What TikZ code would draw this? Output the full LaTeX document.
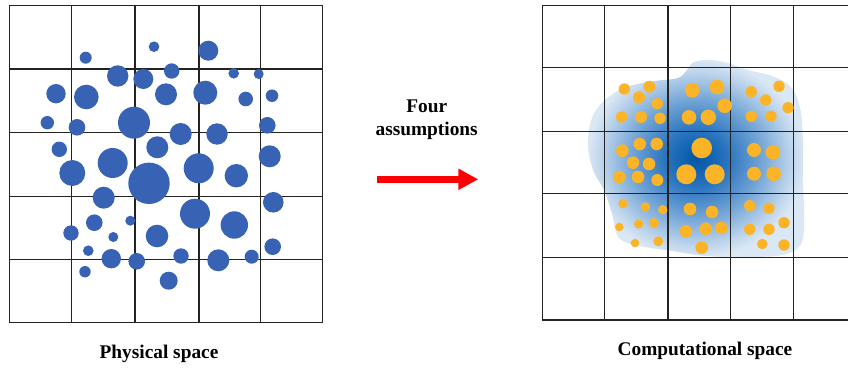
\documentclass[tikz,border=0pt]{standalone}
\usepackage{fontspec}
\setmainfont{Liberation Serif}
\usepackage{tikz}
\usetikzlibrary{arrows.meta}

\definecolor{dotblue}{RGB}{56,98,180}
\definecolor{dotorange}{RGB}{251,180,40}
\definecolor{gridline}{RGB}{35,35,35}
\definecolor{blobdark}{RGB}{0,86,166}
\definecolor{blobmid}{RGB}{40,115,190}
\definecolor{blobpale}{RGB}{115,165,214}
\definecolor{bloblight}{RGB}{190,213,236}
\definecolor{blobedge}{RGB}{218,231,244}
\pgfdeclareradialshading{blobshade}{\pgfpoint{0bp}{0bp}}{color(0bp)=(blobdark); color(7bp)=(blobmid); color(15bp)=(blobpale); color(22bp)=(bloblight); color(25bp)=(blobedge); color(50bp)=(blobedge)}

\begin{document}
\begin{tikzpicture}[x=0.03cm,y=-0.03cm]
    \tikzstyle{gridrule}=[draw=gridline,line width=1.1pt]
    \tikzstyle{particle}=[fill=dotblue]
    \tikzstyle{sample}=[fill=dotorange]
    \tikzstyle{caption}=[font=\fontsize{16.5}{19.6}\selectfont\bfseries,align=center,inner sep=0pt]
    \useasboundingbox (0,0) rectangle (848,367);
    % density cloud in computational space
    \path[shading=blobshade] plot[smooth cycle,tension=0.6] coordinates {
      (687,70) (694,62) (710,60) (728,63) (748,70) (772,76) (791,87) (800,108)
      (803,140) (803,180) (804,215) (801,244) (782,255) (745,257) (705,256)
      (672,251) (640,246) (619,238) (612,214) (604,190) (593,170) (588,145)
      (592,118) (605,100) (626,87) (655,81) (678,78)};
    % grids
    \foreach \gx in {9.3,71.7,135,199,260.7,322.7}
      \draw[gridrule] (\gx,5.7) -- (\gx,322.7);
    \foreach \gy in {5.7,69,132.3,196.7,259.3,322.7}
      \draw[gridrule] (9.3,\gy) -- (322.7,\gy);
    \foreach \gx in {542.3,604.3,668,730.3,793.7}
      \draw[gridrule] (\gx,5.7) -- (\gx,320);
    \foreach \gy in {5.7,67.7,131.7,193.3,257.3,320}
      \draw[gridrule] (542.3,\gy) -- (848,\gy);
    % physical particles
    \foreach \px/\py/\pr in {85.7/57.7/6, 154/46.7/5.3, 208.3/50.7/10, 117.7/76/10.7,
      143.3/79/10, 171.7/71/7.7, 233.7/73.3/5.3, 258.7/74/5, 56/93.7/9.7,
      86.3/97/12.3, 166/94.3/11, 205.3/92.7/12, 245.7/99/7.3, 272/95.7/6.3,
      47.3/122.7/6.7, 77/127.3/8.3, 134/122.7/16, 180.7/134/11, 217/134/10.7,
      267.3/125.3/8.3, 59.3/149.3/7.7, 157.3/147.3/11, 112.7/163/15, 269.7/156.3/11,
      72.3/173/13, 149/183.3/20.7, 198.7/168.3/15, 236.3/175.7/11.7, 103.7/197.7/11,
      273.3/202.3/10.3, 195/213.7/15, 234.3/225/13.7, 94.3/222.7/8.3, 130.3/220.7/5,
      71/233/7.7, 113.3/237/5, 157/236/11.3, 272.7/246.7/8.3, 88.3/250.7/5.3,
      111.3/258.7/9.7, 136.7/261.3/8.3, 181/256/7.7, 218.3/260.3/11, 251.7/256.7/7,
      85/271.7/5.7, 168.7/280.7/9}
      \fill[particle] (\px,\py) circle (\pr);
    % computational samples
    \foreach \px/\py/\pr in {624.3/89/5.7, 649.3/86.7/6, 639/97.3/6, 657.3/103.7/5.7,
      621.7/117/5.7, 641/117/6, 660/118.3/5.7, 692.3/90.3/7.3, 717/87/7.3,
      724.7/105.7/7.3, 689/117.3/7.3, 708.3/117.3/7.7, 751.3/91.7/5.7, 779/86.3/5.7,
      765.7/100/5.7, 788/107.7/5.7, 751.3/116.3/5.7, 771/116.3/5.7,
      622.3/150.7/6.3, 639.7/144/6.3, 656.7/144/6.3, 633/162.7/6.3, 649/164/6.3,
      619.3/177/6.3, 638/177/6.3, 657.3/180/6, 701.7/148/10.3, 686.3/174.3/10,
      714.7/174.3/10, 754/150/7, 773/152.3/7.3, 754/173.7/7, 773.7/173.7/7.3,
      623/203.7/4.7, 645.3/207/4.7, 662.7/209.7/4.7, 619.3/227/4.3, 638.7/224/4.7,
      654/223/5, 635/243/4.3, 658.3/241.3/5, 690/209/6.3, 712/212/6.3,
      686/231.3/6.3, 705.7/228.7/6.3, 721.3/228/6.3, 701.7/247.7/6.3,
      749.7/205.7/5.7, 769/208.3/5.7, 784/222.7/5.7, 749.7/229.3/5.7,
      769/229.3/5.7, 762.3/244/5.3, 784/245/5.7}
      \fill[sample] (\px,\py) circle (\pr);
    % labels and arrow
    \node[caption] (assumlabel) at (426.7,120) {Four\\assumptions};
    \node[caption] (physlabel) at (159,354) {Physical space};
    \node[caption] (complabel) at (705,350.5) {Computational space};
    \coordinate (arrstart) at (376.7,179.3);
    \coordinate (arrend) at (478.3,179.3);
    \draw[red,line width=5.6pt,-{Triangle[length=17pt,width=17pt]}] (arrstart) -- (arrend);
\end{tikzpicture}
\end{document}
